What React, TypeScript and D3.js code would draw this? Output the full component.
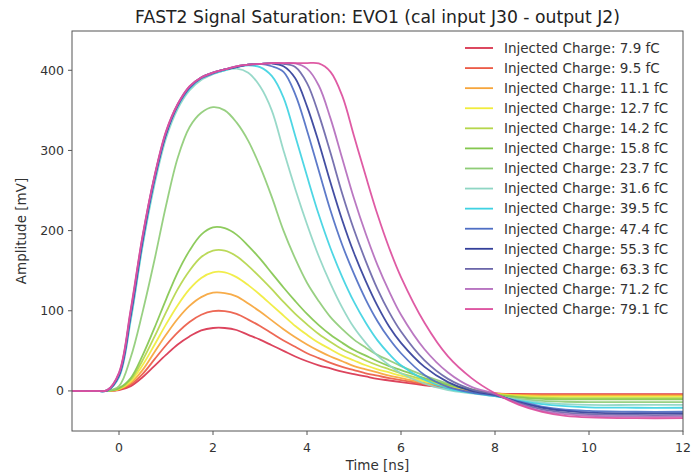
import React from 'react';
import * as d3 from 'd3';

// time axis samples [ns]
const times = [-1, -0.5, -0.25, 0, 0.25, 0.5, 0.75, 1, 1.25, 1.5, 1.75, 2, 2.25, 2.5, 2.75, 3, 3.25, 3.5, 3.75, 4, 4.25, 4.5, 4.75, 5, 5.25, 5.5, 5.75, 6, 6.5, 7, 7.5, 8, 8.5, 9, 9.5, 10, 11, 12];

const charges = ['7.9', '9.5', '11.1', '12.7', '14.2', '15.8', '23.7', '31.6', '39.5', '47.4', '55.3', '63.3', '71.2', '79.1'];

const q7_9 = [0,0,0, 1,6,17,31,45, 58,68,75.5,78.5, 78.5,76,70,64, 57,50,43,37, 32,28,24,21, 18,15,13,11, 7,3.5,-0.5,-3, -3.8,-4,-4,-4, -4,-4];
const q9_5 = [0,0,0, 1.5,8,21,39,57, 73,86,95,99.5, 99.5,96,89,81, 72,63,55,47, 41,35,30,26, 22,19,16,13.5, 8.5,4,0,-3, -4.3,-4.5,-4.5,-4.5, -4.5,-4.5];
const q11_1 = [0,0,0, 2,10,26,48,70, 90,106,117,122.5, 122,118,109,99, 88,77,67,58, 50,43,37,31, 27,23,19,16, 10,5,0.5,-3.5, -5,-5.5,-5.5,-5.5, -5.5,-5.5];
const q12_7 = [0,0,0, 2.5,12,32,57,83, 107,127,141,148, 148,142,132,120, 107,94,81,70, 60,52,44,38, 32,27,23,19, 12,6,1,-3.5, -6,-7,-7,-7, -7,-7];
const q14_2 = [0,0,0, 3,14,38,67,98, 127,150,167,175, 175,168,156,142, 127,111,96,83, 71,61,52,45, 38,32,27,22, 14,7,1.5,-4, -7,-8.5,-9,-9, -9,-9];
const q15_8 = [0,0,0, 3.5,16,44,78,114, 148,175,195,204, 203,195,181,165, 147,129,112,96, 82,70,60,51, 44,37,31,26, 16,8,2,-4.5, -8,-10,-10.5,-10.5, -10.5,-10.5];
const q23_7 = [0,0,0, 6,42,98,162,231, 291,329,347,354, 350,335,312,280, 242,200,165,135, 112,92,77,64, 54,45,38,31, 19,9,0.5,-5.5, -10,-12.5,-13.5,-14, -14,-14];
const q31_6 = [0,0,0.5, 17,88,180,256,315, 352,375,388,395, 400,402,397,380, 350,300,252,208, 168,134,104,79, 60,44,32,22, 9,1,-3,-6.5, -11,-14.5,-16.5,-17.5, -17.5,-17.5];
const q39_5 = [0,0,0.5, 18,91,183,260,319, 355,377,390,396, 400,404,406,404, 393,366,318,268, 220,178,142,111, 85,63,46,32, 14,3,-2.5,-6.5, -12,-16.5,-19,-20.5, -21,-21];
const q47_4 = [0,0,0.5, 19,94,186,262,320, 356,378,390,396, 401,404,407,408, 405,398,370,325, 275,225,182,146, 114,87,65,47, 20,5,-2,-6, -13,-19.5,-23.5,-25, -26,-26];
const q55_3 = [0,0,0.5, 20,96,188,264,321, 357,379,391,397, 401,404,407,408, 408.5,405,390,355, 310,260,213,172, 137,106,80,60, 30,11,0,-5, -14,-21,-25,-27, -28,-28];
const q63_3 = [0,0,1, 21,98,190,265,322, 357,379,391,397, 401,405,407,408, 409,408,404,384, 345,297,246,201, 162,127,98,74, 38,15,2,-4.5, -15,-23,-27,-29, -30,-30];
const q71_2 = [0,0,1, 22,100,192,266,323, 358,380,391,397, 401,405,407,408, 409,409,408.5,402, 381,340,290,240, 196,157,124,95, 52,23,5,-3.5, -16,-25,-29,-31, -32,-32];
const q79_1 = [0,0,1, 23,102,193,267,324, 358,380,391,397, 401,405,407,408, 409,409,409,409, 408.5,398,368,318, 268,220,178,142, 85,43,16,-3, -17,-26,-31,-33, -34,-34];

const seriesValues = [q7_9, q9_5, q11_1, q12_7, q14_2, q15_8, q23_7, q31_6, q39_5, q47_4, q55_3, q63_3, q71_2, q79_1];

const colors = ['#d9344f', '#ec5b47', '#f6a53b', '#f0ec3c', '#b5d64b', '#84c74f', '#8fcc77', '#8fd6c4', '#3fd2e2', '#4f6fc4', '#333f9a', '#6b66a9', '#b46cbd', '#dc4d9c'];

const xTicks = [0, 2, 4, 6, 8, 10, 12];
const yTicks = [0, 100, 200, 300, 400];

const title = 'FAST2 Signal Saturation: EVO1 (cal input J30 - output J2)';
const xLabel = 'Time [ns]';
const yLabel = 'Amplitude [mV]';

const W = 695, H = 474;
const L = 72, R = 683, T = 31, B = 431;
const FONT = 'DejaVu Sans, sans-serif';

export default function App() {
  const x = d3.scaleLinear().domain([-1, 12]).range([L, R]);
  const y = d3.scaleLinear().domain([-50, 449]).range([B, T]);
  const line = d3.line<[number, number]>()
    .x((d) => x(d[0]))
    .y((d) => y(d[1]))
    .curve(d3.curveCatmullRom.alpha(0.5));

  const legendX = 465, legendY0 = 48, legendDy = 20.08;

  return (
    <svg width={W} height={H} style={{ position: 'absolute', left: 0, top: 0, background: '#fff' }} fontFamily={FONT}>
      <defs>
        <clipPath id="plotclip">
          <rect x={L} y={T} width={R - L} height={B - T} />
        </clipPath>
      </defs>
      <rect x={0} y={0} width={W} height={H} fill="#fff" />
      <text x={(L + R) / 2} y={23} textAnchor="middle" fontSize={17.2} fill="#222">{title}</text>

      <g clipPath="url(#plotclip)">
        {seriesValues.map((vals, i) => (
          <path
            key={i}
            d={line(times.map((t, j) => [t, vals[j]]) as [number, number][]) || ''}
            fill="none"
            stroke={colors[i]}
            strokeWidth={1.8}
            strokeOpacity={0.92}
          />
        ))}
      </g>

      <rect x={L} y={T} width={R - L} height={B - T} fill="none" stroke="#555" strokeWidth={1} />

      {xTicks.map((t) => (
        <g key={'x' + t}>
          <line x1={x(t)} x2={x(t)} y1={B} y2={B + 4} stroke="#555" />
          <text x={x(t)} y={452} textAnchor="middle" fontSize={12.5} fill="#333">{t}</text>
        </g>
      ))}
      {yTicks.map((v) => (
        <g key={'y' + v}>
          <line x1={L - 4} x2={L} y1={y(v)} y2={y(v)} stroke="#555" />
          <text x={L - 8} y={y(v) + 4.5} textAnchor="end" fontSize={12.5} fill="#333">{v}</text>
        </g>
      ))}

      <text x={(L + R) / 2} y={470} textAnchor="middle" fontSize={13.5} fill="#333">{xLabel}</text>
      <text transform={`translate(26, ${(T + B) / 2}) rotate(-90)`} textAnchor="middle" fontSize={13.5} fill="#333">{yLabel}</text>

      {charges.map((c, i) => (
        <g key={'l' + c}>
          <line x1={legendX} x2={legendX + 28} y1={legendY0 + i * legendDy} y2={legendY0 + i * legendDy} stroke={colors[i]} strokeWidth={1.8} />
          <text x={504} y={legendY0 + i * legendDy + 4.8} fontSize={13.5} fill="#333">{`Injected Charge: ${c} fC`}</text>
        </g>
      ))}
    </svg>
  );
}
